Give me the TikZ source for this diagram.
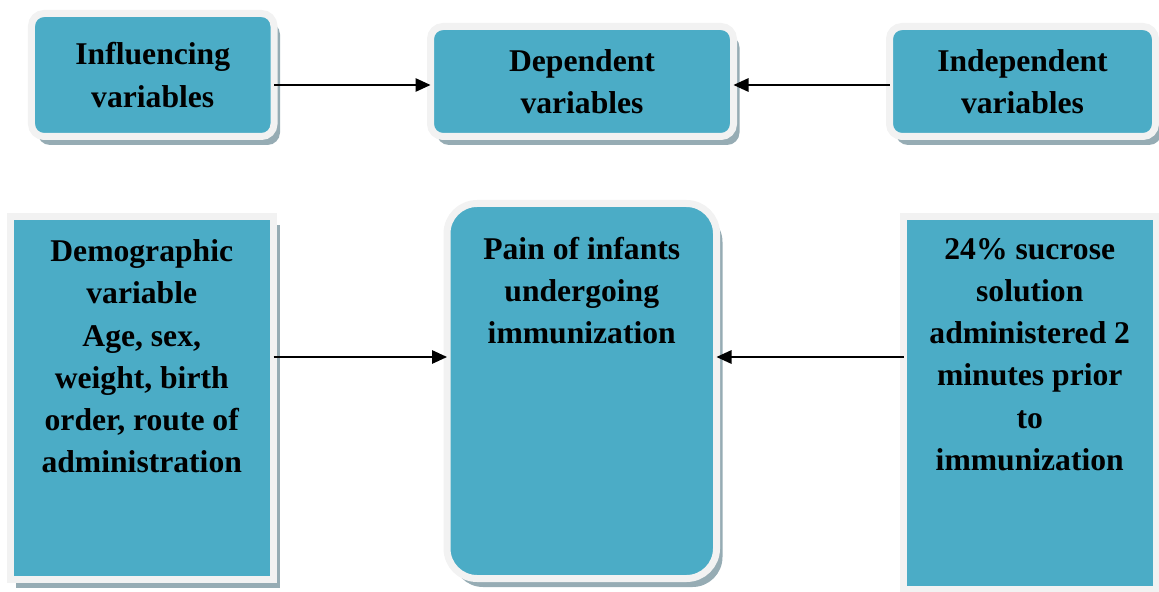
\documentclass[tikz,border=0pt]{standalone}
\usepackage{fontspec}
\setmainfont{Liberation Serif}
\usetikzlibrary{arrows.meta,positioning,shadows}
\definecolor{boxteal}{RGB}{75,172,198}
\definecolor{rimgray}{RGB}{242,242,242}
\definecolor{shadegray}{RGB}{150,172,180}

\begin{document}
\begin{tikzpicture}[
        varbox/.style={draw=rimgray,fill=boxteal,line width=0.14cm,
                       rounded corners=0.25cm,outer sep=0pt,inner sep=0pt,
                       font=\bfseries\fontsize{18}{24}\selectfont,align=center,
                       drop shadow={shadow xshift=0.12cm,shadow yshift=-0.17cm,
                                    fill=shadegray,opacity=1}},
        boxtext/.style={font=\bfseries\fontsize{18}{24}\selectfont,
                        align=center,inner sep=0pt},
        arr/.style={draw,line width=0.8pt,
                    -{Triangle[length=0.3cm,width=0.27cm]}}
      ]
        \useasboundingbox (0,0) rectangle (23.18,-11.84);
        \node[varbox,minimum width=4.85cm,minimum height=2.46cm]
          (infl) at (3.055,-1.5){Influencing\\variables};
        \node[varbox,minimum width=6.06cm,minimum height=2.2cm]
          (dep) at (11.64,-1.63){Dependent\\variables};
        \node[varbox,minimum width=5.32cm,minimum height=2.2cm]
          (indep) at (20.45,-1.63){Independent\\variables};
        \node[varbox,sharp corners,minimum width=5.27cm,minimum height=7.26cm]
          (demo) at (2.835,-7.96){};
        \node[varbox,rounded corners=0.6cm,minimum width=5.39cm,
              minimum height=7.5cm] (pain) at (11.635,-7.82){};
        \node[varbox,sharp corners,minimum width=5.05cm,minimum height=7.46cm]
          (sucr) at (20.595,-8.06){};
        \node[boxtext,below=0.46cm of demo.north] (demotxt)
          {Demographic\\variable\\Age, sex,\\weight, birth\\order, route of\\administration};
        \node[boxtext,below=0.66cm of pain.north] (paintxt)
          {Pain of infants\\undergoing\\immunization};
        \node[boxtext,below=0.43cm of sucr.north] (sucrtxt)
          {24\% sucrose\\solution\\administered 2\\minutes prior\\to\\immunization};
        \draw[arr]([yshift=-0.2cm]infl.east)coordinate(a1)--(a1 -| dep.west);
        \draw[arr]([yshift=-0.07cm]indep.west)coordinate(a2)--(a2 -| dep.east);
        \draw[arr]([yshift=0.82cm]demo.east)coordinate(a3)--(a3 -| pain.west);
        \draw[arr]([yshift=0.92cm]sucr.west)coordinate(a4)--(a4 -| pain.east);
      \end{tikzpicture}
\end{document}
